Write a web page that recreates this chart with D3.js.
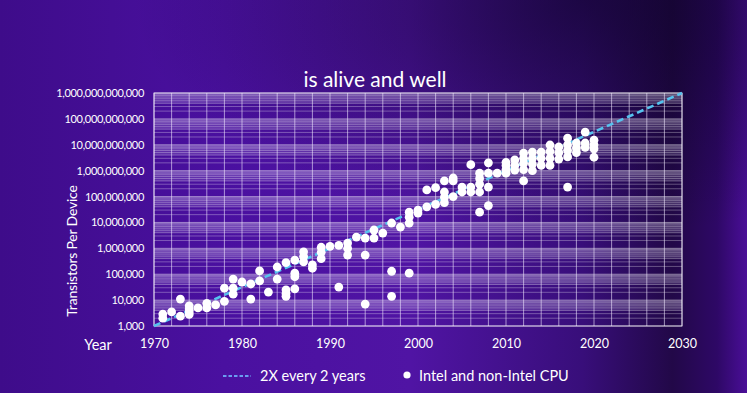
<!DOCTYPE html>
<html><head><meta charset="utf-8">
<script src="https://cdn.jsdelivr.net/npm/d3@7"></script>
<style>
html,body{margin:0;padding:0;background:#400e8e;}
svg{display:block;}
text{font-family:Lato,"Noto Sans",sans-serif;fill:#fff;}
</style></head>
<body>
<svg id="chart" width="747" height="393"></svg>
<script>
// ---------- data ----------
const title = "is alive and well";
const yTickValues = [1e3,1e4,1e5,1e6,1e7,1e8,1e9,1e10,1e11,1e12];
const xTickValues = [1970,1980,1990,2000,2010,2020,2030];
const trendYears = [1970, 2030];
const trendValues = [1e3, 1e12];
const cpuYears = [
 1971,1971,1972,1973,1973,1974,1974,1974,1974,1975,1976,1976,1977,1978,1978,
 1979,1979,1979,1980,1981,1981,1982,1982,1983,1984,1984,1985,1985,1985,1985,
 1986,1986,1986,1986,1987,1987,1987,1988,1988,1989,1989,1989,1990,1991,1991,
 1992,1992,1992,1993,1994,1994,1994,1995,1995,1996,1997,1997,1997,1998,
 1999,1999,1999,1999,2000,2000,2001,2001,2002,2002,2003,2003,2003,2003,
 2004,2004,2004,2005,2005,2006,2006,2006,2007,2007,2007,2007,2007,
 2008,2008,2008,2008,2009,2010,2010,2010,2010,2011,2011,2011,
 2012,2012,2012,2012,2012,2013,2013,2013,2013,2014,2014,2014,
 2015,2015,2015,2015,2016,2016,2016,2017,2017,2017,2017,2017,
 2018,2018,2018,2019,2019,2019,2020,2020,2020,2020
];
const cpuTransistors = [
 2900,2000,3500,11000,2400,6000,4500,3500,2800,5000,7500,5000,6500,29000,9000,
 65000,29000,17000,50000,42000,11000,134000,55000,20500,190000,65000,280000,25000,18000,14000,
 350000,110000,80000,27000,730000,480000,300000,230000,170000,1.1e6,700000,400000,1.2e6,1.3e6,32000,
 1.6e6,1e6,550000,2.7e6,2.5e6,550000,7000,5.1e6,2.5e6,3.9e6,9.5e6,130000,14000,6.6e6,
 25e6,16e6,9.5e6,110000,30e6,23e6,180e6,40e6,220e6,50e6,400e6,150e6,95e6,58e6,
 520e6,400e6,100e6,233e6,150e6,1.7e9,233e6,150e6,800e6,500e6,300e6,150e6,25e6,
 2e9,800e6,233e6,45e6,800e6,2.1e9,1.6e9,1.1e9,800e6,2.6e9,1.6e9,1.05e9,
 4.8e9,3e9,1.9e9,1.1e9,400e6,5.2e9,3e9,1.8e9,1e9,5.2e9,3e9,1.6e9,
 9.8e9,5.5e9,3e9,1.6e9,8.2e9,5e9,2.8e9,18e9,10e9,6e9,3.4e9,233e6,
 11.7e9,7.5e9,5e9,31e9,11.7e9,8e9,15e9,10e9,7e9,3.3e9
];
const legendLabels = ["2X every 2 years","Intel and non-Intel CPU"];

// ---------- layout ----------
const W = 747, H = 393;
const m = {left:154, right:65, top:93, bottom:67};
const iw = W - m.left - m.right, ih = H - m.top - m.bottom;

const svg = d3.select("#chart");
const defs = svg.append("defs");
const lg = defs.append("linearGradient").attr("id","bg").attr("x1","0").attr("x2","1").attr("y1","0").attr("y2","0");
[[0,"#3e0c8a"],[0.3,"#4a10a0"],[0.55,"#5014a4"],[0.78,"#380e7a"],[0.9,"#220848"],[0.96,"#2e0866"],[1,"#4a0e98"]]
 .forEach(([o,c])=>lg.append("stop").attr("offset",o).attr("stop-color",c));
const rg = defs.append("radialGradient").attr("id","dark").attr("cx","0.78").attr("cy","0.0").attr("r","0.6");
rg.append("stop").attr("offset",0).attr("stop-color","#0a0220").attr("stop-opacity",0.6);
rg.append("stop").attr("offset",1).attr("stop-color","#0a0220").attr("stop-opacity",0);
svg.append("rect").attr("width",W).attr("height",H).attr("fill","url(#bg)");
svg.append("rect").attr("width",W).attr("height",H).attr("fill","url(#dark)");

const x = d3.scaleLinear().domain([1970,2030]).range([m.left, m.left+iw]);
const y = d3.scaleLog().domain([1e3,1e12]).range([m.top+ih, m.top]);

// grid
const g = svg.append("g");
const decades = d3.range(3,12);
g.append("g").selectAll("rect").data(decades).join("rect")
 .attr("x",m.left).attr("width",iw)
 .attr("y",d=>y(Math.pow(10,d+1))).attr("height",d=>y(4*Math.pow(10,d))-y(Math.pow(10,d+1)))
 .attr("fill","#d8d0f0").attr("fill-opacity",0.16);
const minor = [];
for (const d of decades) for (let k=2;k<=9;k++) minor.push(k*Math.pow(10,d));
g.append("g").selectAll("line").data(minor).join("line")
 .attr("x1",m.left).attr("x2",m.left+iw)
 .attr("y1",d=>y(d)).attr("y2",d=>y(d))
 .attr("stroke","#fff").attr("stroke-opacity",0.3).attr("stroke-width",1);
g.append("g").selectAll("line").data(yTickValues).join("line")
 .attr("x1",m.left).attr("x2",m.left+iw)
 .attr("y1",d=>y(d)).attr("y2",d=>y(d))
 .attr("stroke","#fff").attr("stroke-opacity",0.45).attr("stroke-width",1);
g.append("g").selectAll("line").data(d3.range(1970,2031,2)).join("line")
 .attr("x1",d=>x(d)).attr("x2",d=>x(d))
 .attr("y1",m.top).attr("y2",m.top+ih)
 .attr("stroke","#f0e8ff").attr("stroke-opacity",0.6).attr("stroke-width",1);
g.append("rect").attr("x",m.left).attr("y",m.top).attr("width",iw).attr("height",ih)
 .attr("fill","none").attr("stroke","#fff").attr("stroke-opacity",0.7).attr("stroke-width",1);

// axes
const yAxis = svg.append("g").attr("transform",`translate(${m.left-10},0)`)
 .call(d3.axisLeft(y).tickValues(yTickValues).tickFormat(d3.format(",.0f")).tickSize(0).tickPadding(0));
yAxis.select(".domain").remove();
yAxis.selectAll("text").attr("font-size",11).attr("letter-spacing","-0.3").attr("fill","#fff")
 .style("font-family","Lato,'Noto Sans',sans-serif");
const xAxis = svg.append("g").attr("transform",`translate(0,${m.top+ih+18})`)
 .call(d3.axisBottom(x).tickValues(xTickValues).tickFormat(d3.format("d")).tickSize(0).tickPadding(0));
xAxis.select(".domain").remove();
xAxis.selectAll("text").attr("font-size",12.5).attr("fill","#fff").attr("dy","0.32em")
 .style("font-family","Lato,'Noto Sans',sans-serif");

svg.append("text").attr("x",98).attr("y",m.top+ih+24).attr("text-anchor","middle")
 .attr("font-size",14.5).text("Year");
svg.append("text").attr("transform",`translate(77,${251}) rotate(-90)`).attr("text-anchor","middle")
 .attr("font-size",14).attr("letter-spacing","-0.2").text("Transistors Per Device");

svg.append("text").attr("x",375).attr("y",87).attr("text-anchor","middle")
 .attr("font-size",21).text(title);

// trend line
const line = d3.line().x((d,i)=>x(trendYears[i])).y((d,i)=>y(trendValues[i]));
svg.append("path").datum(trendYears).attr("d",line)
 .attr("fill","none").attr("stroke","#55c2ee").attr("stroke-width",2.6).attr("stroke-dasharray","7,4");

// dots
svg.append("g").selectAll("circle").data(cpuYears).join("circle")
 .attr("cx",(d,i)=>x(d)).attr("cy",(d,i)=>y(cpuTransistors[i])).attr("r",4.4)
 .attr("fill","#fff");

// legend
const ly = 376;
svg.append("line").attr("x1",223).attr("x2",251).attr("y1",ly).attr("y2",ly)
 .attr("stroke","#6a9cf0").attr("stroke-width",2).attr("stroke-dasharray","3.5,2");
svg.append("text").attr("x",260).attr("y",ly).attr("dy","0.35em").attr("font-size",14.5).text(legendLabels[0]);
svg.append("circle").attr("cx",407).attr("cy",ly-1).attr("r",3.6).attr("fill","#fff");
svg.append("text").attr("x",419).attr("y",ly).attr("dy","0.35em").attr("font-size",14.5).text(legendLabels[1]);
</script>
</body></html>
